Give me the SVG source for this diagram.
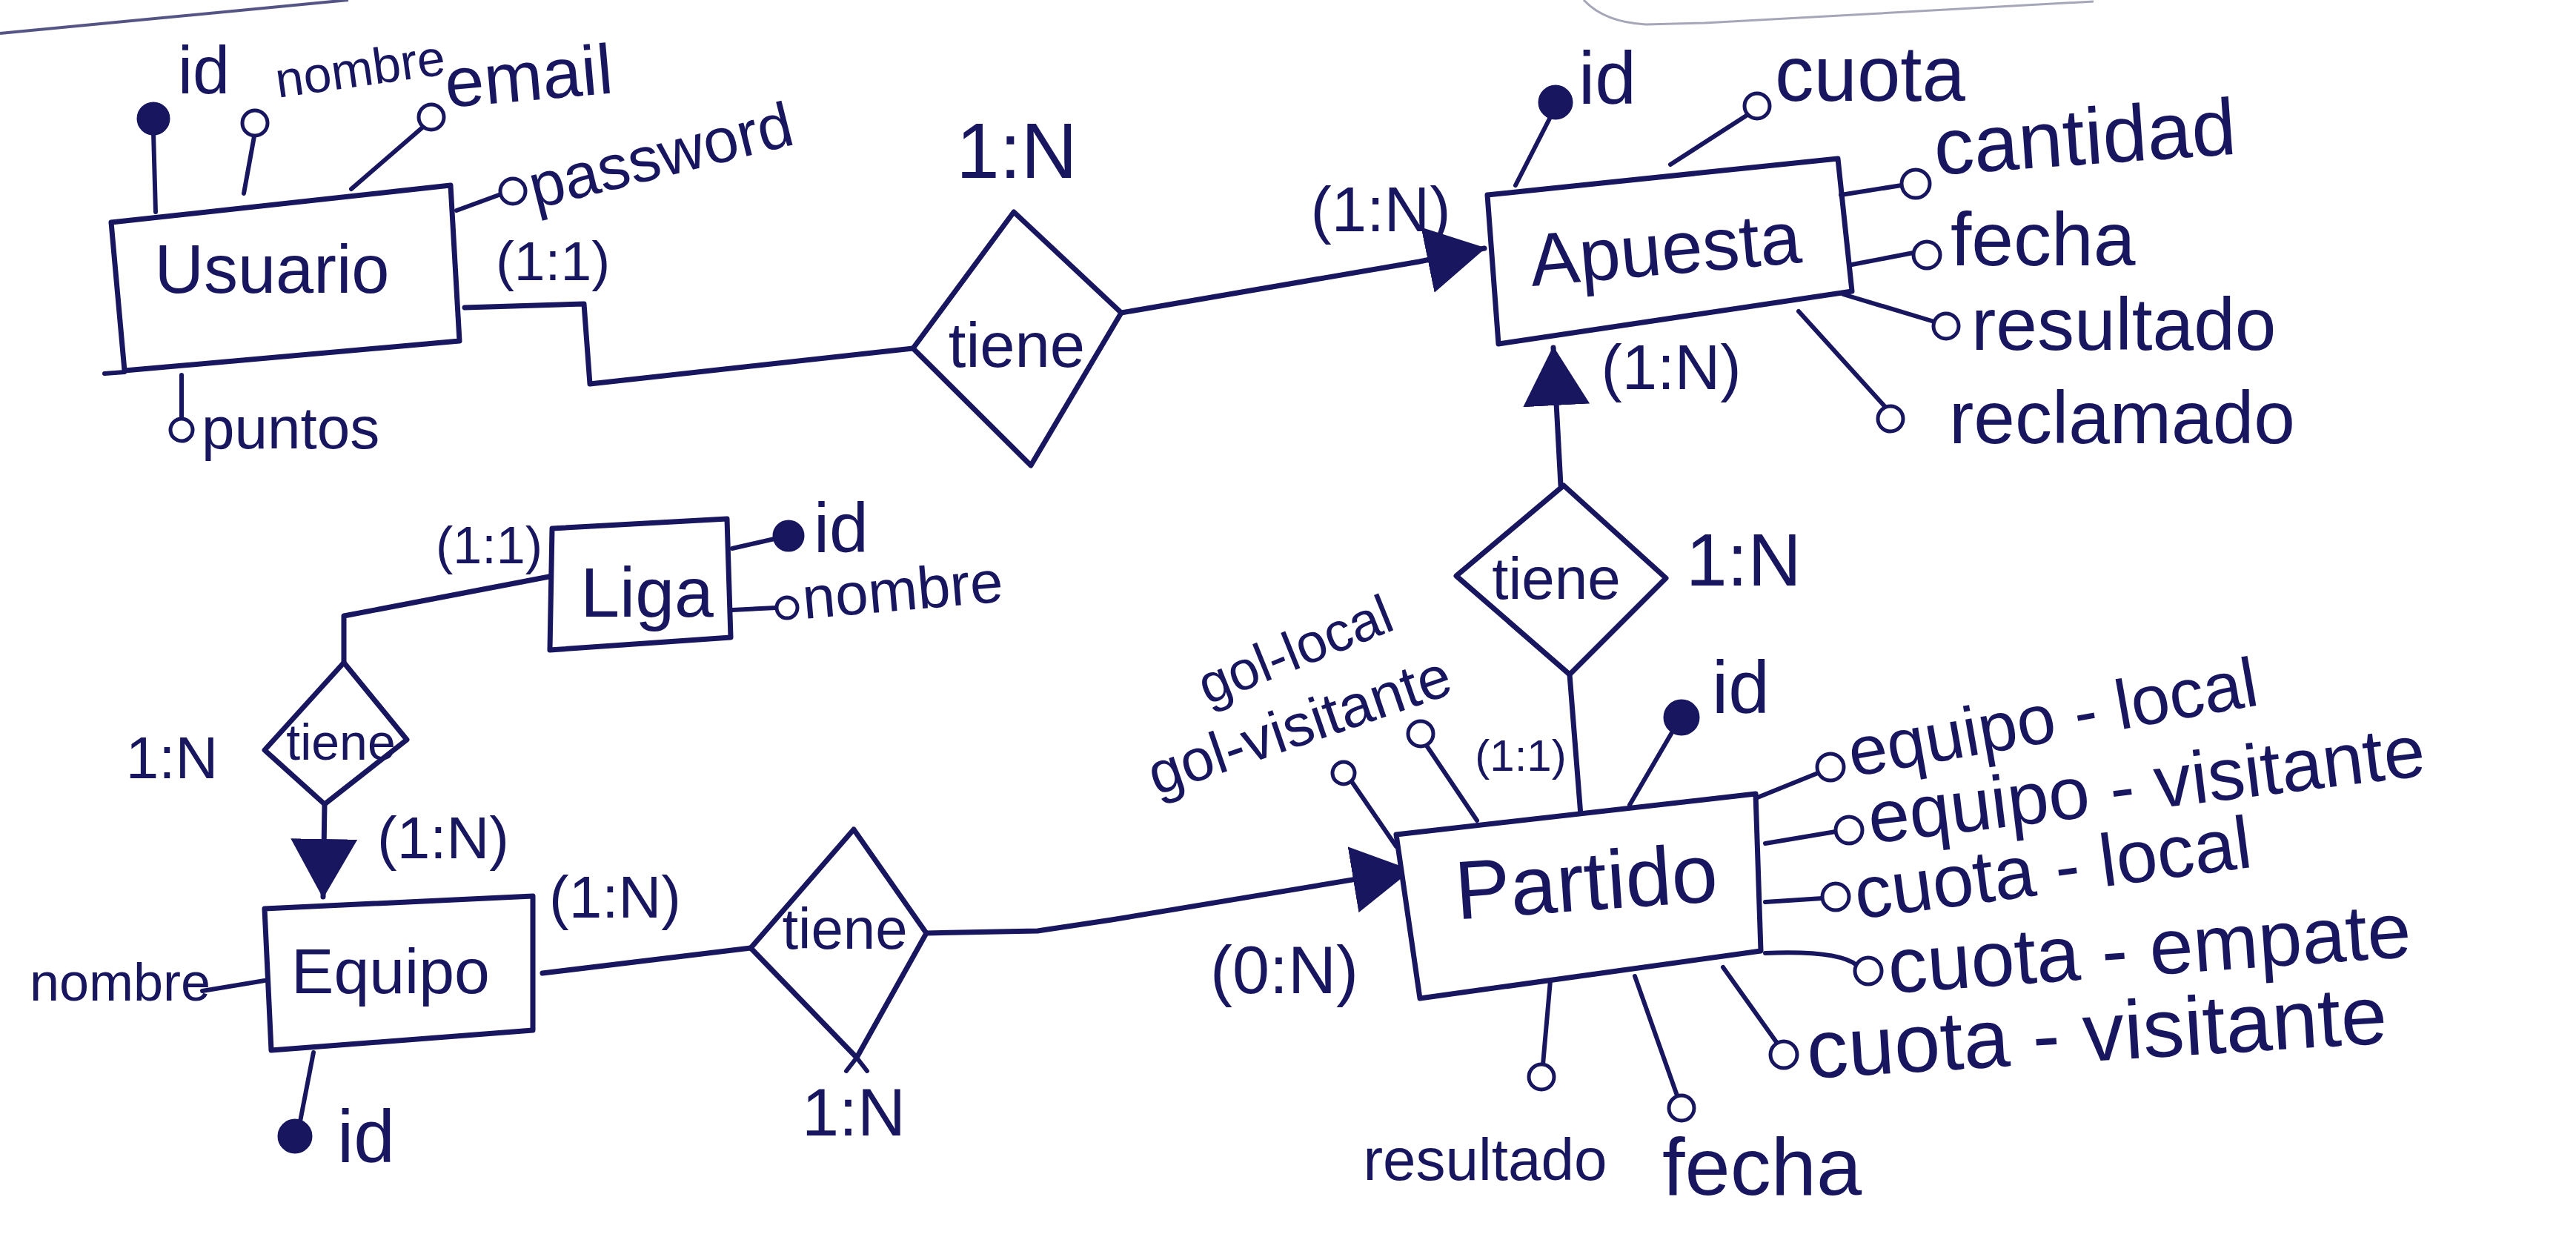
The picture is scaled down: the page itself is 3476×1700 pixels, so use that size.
<svg xmlns="http://www.w3.org/2000/svg" width="3476" height="1700" viewBox="0 0 3476 1700">
<style>
.ink{stroke:#17165e;stroke-width:7;fill:none;stroke-linecap:round;stroke-linejoin:round}
.box{stroke:#17165e;stroke-width:7;fill:#ffffff;stroke-linejoin:round}
.al{stroke:#17165e;stroke-width:6;fill:none;stroke-linecap:round}
.oc{fill:#ffffff;stroke:#17165e;stroke-width:5}
.fc{fill:#17165e;stroke:#17165e;stroke-width:3}
.edge{stroke:#6a6a8a;stroke-width:3;fill:none;opacity:0.6}
text{font-family:"Liberation Sans",Arial,sans-serif;fill:#17165e}
.ent{font-size:95px;text-anchor:middle}
.rel{font-size:80px;text-anchor:middle}
.card{font-size:85px;text-anchor:middle}
</style>
<defs>
<marker id="tri" markerUnits="userSpaceOnUse" markerWidth="80" markerHeight="90" refX="78" refY="45" orient="auto">
<path d="M0,0 L80,45 L0,90 Z" fill="#17165e"/>
</marker>
</defs>
<rect width="3476" height="1700" fill="#ffffff"/>

<g id="page-edges">
<path class="edge" d="M0,45 L470,0" style="stroke:#2a2a66;opacity:0.8;stroke-width:4"/>
<path class="edge" d="M2137,0 Q2165,30 2221,33 L2300,31 L2825,2"/>
</g>

<g id="connectors">
<polyline class="ink" points="627,415 788,410 796,518 1232,470"/>
<polyline class="ink" points="1513,422 1915,353 2003,335" marker-end="url(#tri)"/>
<polyline class="ink" points="2106,655 2096,469" marker-end="url(#tri)"/>
<line class="ink" x1="2118" y1="910" x2="2133" y2="1100"/>
<polyline class="ink" points="1250,1259 1400,1256 1500,1241 1903,1174" marker-end="url(#tri)"/>
<line class="ink" x1="732" y1="1313" x2="1013" y2="1279"/>
<polyline class="ink" points="741,778 464,831 464,894"/>
<polyline class="ink" points="438,1085 436,1210" marker-end="url(#tri)"/>
<text class="card" x="1372" y="240" style="font-size:105px">1:N</text>
<text class="card" x="1863" y="312">(1:N)</text>
<text class="card" x="2255" y="525">(1:N)</text>
<text x="2275" y="790" style="font-size:100px">1:N</text>
<text class="card" x="2052" y="1040" style="font-size:60px">(1:1)</text>
<text class="card" x="1733" y="1340" style="font-size:90px">(0:N)</text>
<text class="card" x="1152" y="1532" style="font-size:90px">1:N</text>
<text class="card" x="830" y="1238" style="font-size:80px">(1:N)</text>
<text class="card" x="598" y="1158" style="font-size:80px">(1:N)</text>
<text class="card" x="232" y="1050" style="font-size:80px">1:N</text>
<text class="card" x="660" y="760" style="font-size:70px">(1:1)</text>
<text class="card" x="746" y="378" style="font-size:75px">(1:1)</text>
</g>

<g id="usuario">
<polygon class="box" points="150,300 608,250 620,460 168,500"/>
<line class="al" x1="141" y1="504" x2="168" y2="502"/>
<text class="ent" x="367" y="395" style="font-size:92px">Usuario</text>
<line class="al" x1="210" y1="286" x2="207" y2="178"/>
<circle class="fc" cx="207" cy="160" r="21"/>
<text x="240" y="126" style="font-size:90px">id</text>
<line class="al" x1="329" y1="261" x2="343" y2="184"/>
<circle class="oc" cx="344" cy="166" r="17"/>
<text x="375" y="132" style="font-size:68px" transform="rotate(-8 375 132)">nombre</text>
<line class="al" x1="474" y1="255" x2="570" y2="172"/>
<circle class="oc" cx="582" cy="158" r="17"/>
<text x="603" y="145" style="font-size:95px" transform="rotate(-5 603 145)">email</text>
<line class="al" x1="616" y1="284" x2="676" y2="262"/>
<circle class="oc" cx="692" cy="258" r="17"/>
<text x="722" y="282" style="font-size:85px" transform="rotate(-14 722 282)">password</text>
<line class="al" x1="245" y1="506" x2="245" y2="565"/>
<circle class="oc" cx="245" cy="580" r="15"/>
<text x="272" y="605" style="font-size:80px">puntos</text>
</g>

<g id="tiene1">
<polygon class="box" points="1368,286 1513,422 1391,628 1232,470"/>
<text class="rel" x="1372" y="495" style="font-size:85px">tiene</text>
</g>

<g id="apuesta">
<polygon class="box" points="2007,263 2480,214 2499,393 2022,464"/>
<text class="ent" x="2250" y="370" style="font-size:100px" transform="rotate(-5 2250 370)">Apuesta</text>
<line class="al" x1="2045" y1="250" x2="2092" y2="158"/>
<circle class="fc" cx="2099" cy="138" r="22"/>
<text x="2130" y="140" style="font-size:100px">id</text>
<line class="al" x1="2254" y1="222" x2="2358" y2="155"/>
<circle class="oc" cx="2371" cy="143" r="17"/>
<text x="2395" y="136" style="font-size:105px">cuota</text>
<line class="al" x1="2484" y1="263" x2="2566" y2="250"/>
<circle class="oc" cx="2585" cy="248" r="19"/>
<text x="2612" y="236" style="font-size:108px" transform="rotate(-4 2612 236)">cantidad</text>
<line class="al" x1="2499" y1="357" x2="2582" y2="341"/>
<circle class="oc" cx="2600" cy="344" r="18"/>
<text x="2632" y="358" style="font-size:102px">fecha</text>
<line class="al" x1="2487" y1="397" x2="2610" y2="434"/>
<circle class="oc" cx="2626" cy="440" r="17"/>
<text x="2660" y="472" style="font-size:100px">resultado</text>
<line class="al" x1="2427" y1="420" x2="2543" y2="548"/>
<circle class="oc" cx="2551" cy="565" r="17"/>
<text x="2630" y="598" style="font-size:100px">reclamado</text>
</g>

<g id="tiene2">
<polygon class="box" points="2110,655 2248,780 2118,910 1965,777"/>
<text class="rel" x="2100" y="808">tiene</text>
</g>

<g id="partido">
<polygon class="box" points="1884,1126 2369,1071 2376,1283 1916,1347"/>
<text class="ent" x="2143" y="1228" style="font-size:112px" transform="rotate(-4 2143 1228)">Partido</text>
<line class="al" x1="1825" y1="1056" x2="1884" y2="1142"/>
<circle class="oc" cx="1813" cy="1043" r="15"/>
<line class="al" x1="1925" y1="1006" x2="1993" y2="1107"/>
<circle class="oc" cx="1917" cy="990" r="17"/>
<text x="1757" y="900" style="font-size:74px;text-anchor:middle" transform="rotate(-22 1757 900)">gol-local</text>
<text x="1762" y="1004" style="font-size:80px;text-anchor:middle" transform="rotate(-19 1762 1004)">gol-visitante</text>
<line class="al" x1="2199" y1="1086" x2="2258" y2="985"/>
<circle class="fc" cx="2269" cy="968" r="23"/>
<text x="2310" y="962" style="font-size:100px">id</text>
<line class="al" x1="2369" y1="1077" x2="2453" y2="1043"/>
<circle class="oc" cx="2470" cy="1035" r="18"/>
<text x="2500" y="1048" style="font-size:94px" transform="rotate(-10 2500 1048)">equipo - local</text>
<line class="al" x1="2382" y1="1138" x2="2477" y2="1122"/>
<circle class="oc" cx="2495" cy="1120" r="18"/>
<text x="2525" y="1138" style="font-size:100px" transform="rotate(-7 2525 1138)">equipo - visitante</text>
<line class="al" x1="2382" y1="1217" x2="2459" y2="1212"/>
<circle class="oc" cx="2477" cy="1210" r="18"/>
<text x="2507" y="1240" style="font-size:100px" transform="rotate(-7.5 2507 1240)">cuota - local</text>
<path class="al" d="M2382,1286 Q2480,1282 2505,1302"/>
<circle class="oc" cx="2521" cy="1310" r="18"/>
<text x="2550" y="1340" style="font-size:106px" transform="rotate(-4 2550 1340)">cuota - empate</text>
<line class="al" x1="2325" y1="1305" x2="2397" y2="1406"/>
<circle class="oc" cx="2407" cy="1423" r="18"/>
<text x="2440" y="1455" style="font-size:112px" transform="rotate(-3.5 2440 1455)">cuota - visitante</text>
<line class="al" x1="2092" y1="1323" x2="2082" y2="1436"/>
<circle class="oc" cx="2080" cy="1453" r="17"/>
<text x="2004" y="1592" style="font-size:80px;text-anchor:middle">resultado</text>
<line class="al" x1="2206" y1="1317" x2="2263" y2="1478"/>
<circle class="oc" cx="2269" cy="1495" r="17"/>
<text x="2243" y="1612" style="font-size:110px">fecha</text>
</g>

<g id="tiene3">
<polygon class="box" points="1152,1119 1250,1259 1156,1427 1013,1279"/>
<line class="al" x1="1156" y1="1427" x2="1142" y2="1445"/>
<line class="al" x1="1156" y1="1427" x2="1170" y2="1445"/>
<text class="rel" x="1140" y="1280" style="font-size:78px">tiene</text>
</g>

<g id="equipo">
<polygon class="box" points="357,1226 719,1209 719,1390 366,1417"/>
<text class="ent" x="527" y="1340" style="font-size:86px">Equipo</text>
<line class="al" x1="273" y1="1337" x2="357" y2="1323"/>
<text x="40" y="1350" style="font-size:72px">nombre</text>
<line class="al" x1="423" y1="1420" x2="405" y2="1513"/>
<circle class="fc" cx="398" cy="1533" r="22"/>
<text x="455" y="1568" style="font-size:100px">id</text>
</g>

<g id="tiene4">
<polygon class="box" points="464,894 549,998 438,1085 357,1012"/>
<text class="rel" x="460" y="1025" style="font-size:68px">tiene</text>
</g>

<g id="liga">
<polygon class="box" points="745,713 981,700 986,860 742,877"/>
<text class="ent" x="873" y="832" style="font-size:95px">Liga</text>
<line class="al" x1="988" y1="740" x2="1045" y2="727"/>
<circle class="fc" cx="1064" cy="723" r="20"/>
<text x="1098" y="745" style="font-size:95px">id</text>
<line class="al" x1="988" y1="823" x2="1047" y2="820"/>
<circle class="oc" cx="1062" cy="820" r="14"/>
<text x="1085" y="835" style="font-size:80px" transform="rotate(-5 1085 835)">nombre</text>
</g>
</svg>
